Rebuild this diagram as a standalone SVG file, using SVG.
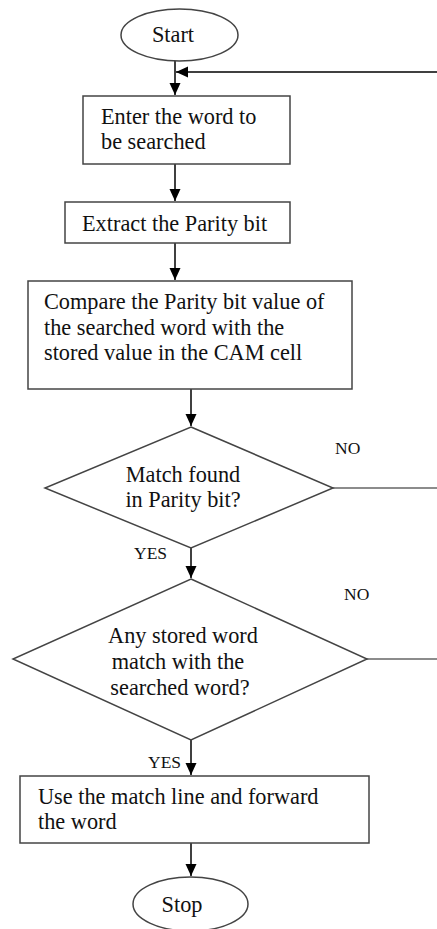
<svg xmlns="http://www.w3.org/2000/svg" width="437" height="929" viewBox="0 0 437 929">
<style>
.box{fill:#fff;stroke:#444;stroke-width:1.5}
.t{font-family:"Liberation Serif","Times New Roman",serif;font-size:22.3px;fill:#111}
.s{font-family:"Liberation Serif","Times New Roman",serif;font-size:17.5px;fill:#111}
.c{stroke:#000;stroke-width:1.5;fill:none}
.g{stroke:#666;stroke-width:1.5;fill:none}
</style>
<defs>
<marker id="ah" markerUnits="userSpaceOnUse" markerWidth="13" markerHeight="12" refX="12" refY="5.5" orient="auto">
<path d="M0,0 L12,5.5 L0,11 z" fill="#000"/>
</marker>
</defs>
<rect width="437" height="929" fill="#fff"/>
<g id="connectors">
<line class="c" x1="175" y1="61" x2="175" y2="95" marker-end="url(#ah)"/>
<line class="c" x1="437" y1="72" x2="176" y2="72" marker-end="url(#ah)"/>
<line class="c" x1="175" y1="164" x2="175" y2="201" marker-end="url(#ah)"/>
<line class="c" x1="175" y1="243" x2="175" y2="280" marker-end="url(#ah)"/>
<line class="c" x1="191" y1="389" x2="191" y2="426" marker-end="url(#ah)"/>
<line class="g" x1="333" y1="488" x2="437" y2="488"/>
<line class="c" x1="191" y1="548" x2="191" y2="578" marker-end="url(#ah)"/>
<line class="g" x1="367" y1="659" x2="437" y2="659"/>
<line class="c" x1="191" y1="740" x2="191" y2="775" marker-end="url(#ah)"/>
<line class="c" x1="191" y1="843" x2="191" y2="876" marker-end="url(#ah)"/>
<text class="s" x="335" y="454">NO</text>
<text class="s" x="134" y="559">YES</text>
<text class="s" x="344" y="600">NO</text>
<text class="s" x="148" y="768">YES</text>
</g>
<g id="start">
<ellipse class="box" cx="179.5" cy="35" rx="58.5" ry="26"/>
<text class="t" x="173" y="42" text-anchor="middle">Start</text>
</g>
<g id="enter">
<rect class="box" x="83" y="96" width="207" height="68"/>
<text class="t" x="101" y="124">Enter the word to</text>
<text class="t" x="101" y="149">be searched</text>
</g>
<g id="extract">
<rect class="box" x="65" y="202" width="225" height="41"/>
<text class="t" x="82" y="231">Extract the Parity bit</text>
</g>
<g id="compare">
<rect class="box" x="28" y="281" width="324" height="108"/>
<text class="t" x="44" y="309">Compare the Parity bit value of</text>
<text class="t" x="44" y="335">the searched word with the</text>
<text class="t" x="44" y="360">stored value in the CAM cell</text>
</g>
<g id="decision1">
<polygon class="box" points="191,427 333,488 191,548 45,488"/>
<text class="t" x="183" y="482" text-anchor="middle">Match found</text>
<text class="t" x="183" y="507" text-anchor="middle">in Parity bit?</text>
</g>
<g id="decision2">
<polygon class="box" points="191,579 367,659 191,740 13,659"/>
<text class="t" x="183" y="643" text-anchor="middle">Any stored word</text>
<text class="t" x="178" y="669" text-anchor="middle">match with the</text>
<text class="t" x="180" y="695" text-anchor="middle">searched word?</text>
</g>
<g id="use">
<rect class="box" x="20" y="776" width="349" height="67"/>
<text class="t" x="38" y="804">Use the match line and forward</text>
<text class="t" x="38" y="829">the word</text>
</g>
<g id="stop">
<ellipse class="box" cx="190.5" cy="904" rx="57.5" ry="27"/>
<text class="t" x="182" y="912" text-anchor="middle">Stop</text>
</g>
</svg>
